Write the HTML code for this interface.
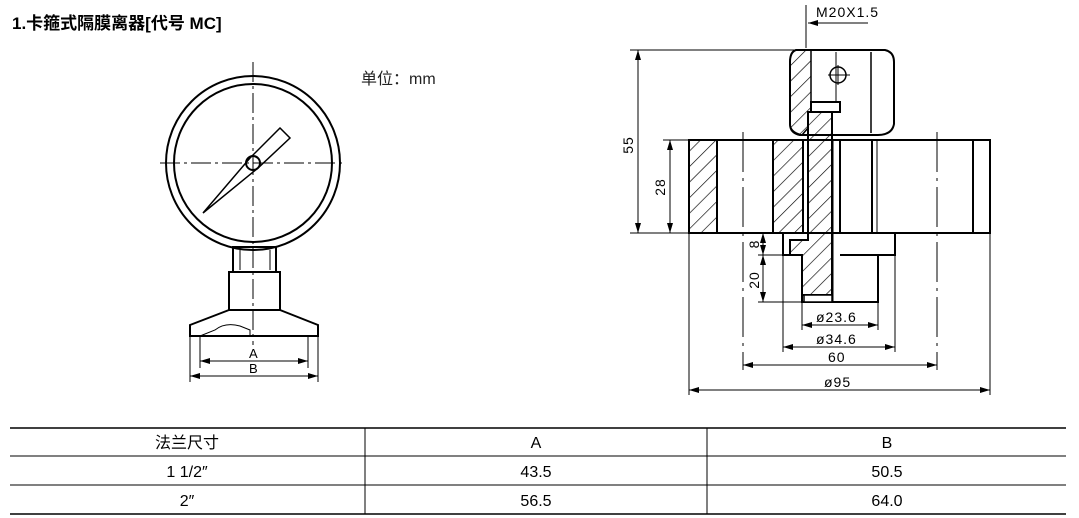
<!DOCTYPE html>
<html><head><meta charset="utf-8"><style>
body{margin:0;background:#fff;width:1079px;height:518px;overflow:hidden;position:relative;font-family:"Liberation Sans","Noto Sans CJK SC",sans-serif;}
.t{position:absolute;white-space:nowrap;}
</style></head><body>
<div class="t" style="left:12px;top:9px;font-size:17px;font-weight:bold;">1.卡箍式隔膜离器[代号 MC]</div>
<div class="t" style="left:361px;top:65px;font-size:16px;color:#222;">单位：mm</div>
<svg width="1079" height="518" style="position:absolute;left:0;top:0" xmlns="http://www.w3.org/2000/svg">
<defs>
<pattern id="h" patternUnits="userSpaceOnUse" width="11" height="11" patternTransform="rotate(45)"><line x1="0" y1="0" x2="0" y2="11" stroke="#000" stroke-width="1.3"/></pattern>
<marker id="a" viewBox="0 0 10 6" refX="10" refY="3" markerWidth="10" markerHeight="6" orient="auto-start-reverse" markerUnits="userSpaceOnUse"><path d="M0,0L10,3L0,6z"/></marker>
</defs>
<g fill="none" stroke="#000" stroke-width="2">
<circle cx="253" cy="163" r="87"/>
<circle cx="253" cy="163" r="79"/>
<circle cx="253" cy="163" r="7"/>
<path d="M203,213 L250,158 L280,128 L290,138 L258,168 Z" stroke-width="1.5"/>
<rect x="233" y="247" width="43" height="25"/>
<rect x="229" y="272" width="51" height="38"/>
<path d="M229,310 L190,325 L190,336 L318,336 L318,325 L280,310"/>
<line x1="240" y1="250" x2="240" y2="270" stroke-width="1"/>
<line x1="270" y1="250" x2="270" y2="270" stroke-width="1"/>
</g>
<g stroke="#000" stroke-width="1" fill="none">
<line x1="253" y1="62" x2="253" y2="345" stroke-dasharray="20,4,3,4"/>
<line x1="160" y1="163" x2="345" y2="163" stroke-dasharray="20,4,3,4"/>
<line x1="190" y1="336" x2="190" y2="382"/><line x1="318" y1="336" x2="318" y2="382"/>
<line x1="200" y1="336" x2="200" y2="368"/><line x1="308" y1="336" x2="308" y2="368"/>
<line x1="200" y1="361" x2="308" y2="361" marker-start="url(#a)" marker-end="url(#a)"/>
<line x1="190" y1="376" x2="318" y2="376" marker-start="url(#a)" marker-end="url(#a)"/>
<path d="M215,330 Q225,322 240,326 L250,330 L250,336 L200,336 Z" stroke-width="1"/>
</g>
<text x="249" y="358" font-size="13" font-family="Liberation Sans">A</text>
<text x="249" y="373" font-size="13" font-family="Liberation Sans">B</text>

<g stroke="#000" stroke-width="2" fill="none">
<rect x="689" y="140" width="301" height="93"/>
<rect x="689" y="140" width="28" height="93" fill="url(#h)"/>
<rect x="773" y="140" width="30" height="93" fill="url(#h)"/>
<line x1="840" y1="140" x2="840" y2="233"/>
<line x1="872" y1="140" x2="872" y2="233"/>
<line x1="877" y1="140" x2="877" y2="233" stroke-width="1"/>
<line x1="973" y1="140" x2="973" y2="233"/>
<path d="M796,50 L885,50 Q894,52 894,62 L894,124 Q892,135 878,135 L840,135 L800,135 Q790,133 790,124 L790,62 Q790,52 796,50 Z" fill="#fff"/>
<path d="M796,50 L811,50 L811,112 L808,112 L808,128 L802,135 Q790,132 790,124 L790,62 Q790,52 796,50Z" fill="url(#h)" stroke-width="1.5"/>
<line x1="871" y1="52" x2="871" y2="133" stroke-width="1.5"/>
<rect x="811" y="102" width="29" height="10" fill="#fff"/>
<line x1="836" y1="52" x2="836" y2="102" stroke-width="1"/>
<circle cx="838" cy="75" r="8" stroke-width="1.5"/>
<line x1="828" y1="75" x2="850" y2="75" stroke-width="1"/>
<line x1="838" y1="65" x2="838" y2="85" stroke-width="1"/>
<path d="M808,112 L832,112 L832,295 L802,295 L802,255 L790,255 L790,240 L808,240 Z" fill="url(#h)"/>
<path d="M783,233 L783,255 L790,255 M840,233 L895,233 L895,255 L840,255"/>
<path d="M802,255 L802,302 L878,302 L878,255"/>
<rect x="804" y="295" width="28" height="7" fill="#fff" stroke-width="1.5"/>
<line x1="833" y1="140" x2="833" y2="302" stroke-width="1"/>
</g>
<g stroke="#000" stroke-width="1" fill="none">
<line x1="806" y1="5" x2="806" y2="48"/>
<line x1="868" y1="23" x2="808" y2="23" marker-end="url(#a)"/>
<line x1="630" y1="50" x2="796" y2="50"/>
<line x1="630" y1="233" x2="689" y2="233"/>
<line x1="663" y1="140" x2="689" y2="140"/>
<line x1="638" y1="50" x2="638" y2="233" marker-start="url(#a)" marker-end="url(#a)"/>
<line x1="670" y1="140" x2="670" y2="233" marker-start="url(#a)" marker-end="url(#a)"/>
<line x1="758" y1="255" x2="790" y2="255"/>
<line x1="758" y1="302" x2="802" y2="302"/>
<line x1="763" y1="233" x2="763" y2="255" marker-start="url(#a)" marker-end="url(#a)"/>
<line x1="763" y1="255" x2="763" y2="302" marker-start="url(#a)" marker-end="url(#a)"/>
<line x1="802" y1="302" x2="802" y2="330"/><line x1="878" y1="302" x2="878" y2="330"/>
<line x1="783" y1="255" x2="783" y2="352"/><line x1="895" y1="255" x2="895" y2="352"/>
<line x1="743" y1="132" x2="743" y2="370" stroke-dasharray="40,6,3,6"/><line x1="937" y1="132" x2="937" y2="370" stroke-dasharray="40,6,3,6"/>
<line x1="689" y1="233" x2="689" y2="395"/><line x1="990" y1="233" x2="990" y2="395"/>
<line x1="802" y1="325" x2="878" y2="325" marker-start="url(#a)" marker-end="url(#a)"/>
<line x1="783" y1="347" x2="895" y2="347" marker-start="url(#a)" marker-end="url(#a)"/>
<line x1="743" y1="365" x2="937" y2="365" marker-start="url(#a)" marker-end="url(#a)"/>
<line x1="689" y1="390" x2="990" y2="390" marker-start="url(#a)" marker-end="url(#a)"/>
</g>
<g font-family="Liberation Sans" font-size="14" letter-spacing="1">
<text x="816" y="17">M20X1.5</text>
<text x="816" y="322">ø23.6</text>
<text x="816" y="344">ø34.6</text>
<text x="828" y="362">60</text>
<text x="824" y="387">ø95</text>
<text transform="translate(633,145) rotate(-90)" text-anchor="middle">55</text>
<text transform="translate(665,187) rotate(-90)" text-anchor="middle">28</text>
<text transform="translate(759,244) rotate(-90)" text-anchor="middle">8</text>
<text transform="translate(759,280) rotate(-90)" text-anchor="middle">20</text>
</g>

<g stroke="#000">
<line x1="10" y1="428" x2="1066" y2="428" stroke-width="1.5"/>
<line x1="10" y1="456" x2="1066" y2="456" stroke-width="1"/>
<line x1="10" y1="485" x2="1066" y2="485" stroke-width="1"/>
<line x1="10" y1="514" x2="1066" y2="514" stroke-width="1.5"/>
<line x1="365" y1="428" x2="365" y2="514" stroke-width="1"/>
<line x1="707" y1="428" x2="707" y2="514" stroke-width="1"/>
</g>
<g font-family="Liberation Sans,Noto Sans CJK SC,sans-serif" font-size="16" text-anchor="middle">
<text x="187" y="448">法兰尺寸</text><text x="536" y="448">A</text><text x="887" y="448">B</text>
<text x="187" y="477">1 1/2″</text><text x="536" y="477">43.5</text><text x="887" y="477">50.5</text>
<text x="187" y="506">2″</text><text x="536" y="506">56.5</text><text x="887" y="506">64.0</text>
</g>
</svg>
</body></html>
